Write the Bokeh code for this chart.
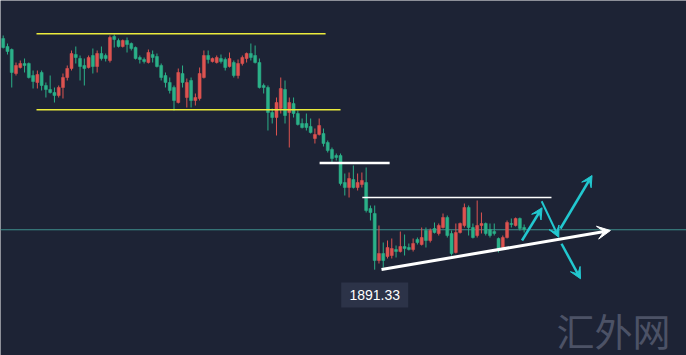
from bokeh.plotting import figure
from bokeh.models import Range1d, Span, Arrow, VeeHead, ColumnDataSource
from bokeh.embed import file_html
from bokeh.resources import INLINE
from bokeh.core.properties import value

# ---------------- data (candles) ----------------
opens = [1983.8, 1980.6, 1979.4, 1969.8, 1972.2, 1973.8, 1973.8, 1969.0, 1966.2, 1970.2,
         1965.0, 1963.4, 1962.2, 1961.0, 1964.2, 1968.2, 1971.8, 1977.4, 1975.8, 1973.0,
         1972.2, 1977.0, 1972.6, 1977.8, 1977.0, 1975.0, 1984.6, 1983.0, 1980.6, 1983.0,
         1981.8, 1980.2, 1976.2, 1975.4, 1974.2, 1977.4, 1976.6, 1973.0, 1969.0, 1966.2,
         1964.2, 1958.2, 1969.8, 1960.2, 1967.0, 1959.0, 1959.8, 1968.2, 1977.0, 1974.6,
         1974.2, 1975.8, 1975.4, 1972.6, 1974.2, 1969.0, 1973.8, 1975.8, 1977.8, 1977.0,
         1974.2, 1965.0, 1964.2, 1954.2, 1952.2, 1955.8, 1963.4, 1954.2, 1957.8, 1953.8,
         1949.8, 1949.8, 1948.6, 1943.8, 1945.4, 1945.8, 1942.2, 1939.4, 1937.0, 1937.0,
         1926.2, 1924.2, 1927.4, 1924.2, 1925.4, 1926.2, 1915.8, 1913.8, 1895.0, 1897.8,
         1896.6, 1897.0, 1899.4, 1898.6, 1900.6, 1900.2, 1899.4, 1903.4, 1901.4, 1907.0,
         1903.0, 1907.8, 1905.8, 1908.2, 1912.2, 1905.8, 1898.2, 1906.2, 1909.0, 1916.2,
         1908.2, 1905.0, 1909.0, 1909.8, 1907.4, 1906.6, 1903.8, 1900.2, 1904.2, 1909.8,
         1909.0, 1911.8, 1908.2]
closes = [1980.2, 1978.6, 1970.2, 1973.0, 1973.8, 1973.0, 1968.2, 1966.6, 1969.4, 1965.0,
          1963.4, 1962.2, 1961.0, 1964.2, 1968.2, 1971.8, 1977.8, 1976.2, 1972.6, 1971.8,
          1976.2, 1972.6, 1977.8, 1975.8, 1975.8, 1984.2, 1983.4, 1980.6, 1983.0, 1981.4,
          1979.8, 1975.8, 1975.4, 1974.6, 1978.2, 1976.2, 1972.6, 1968.2, 1966.2, 1963.0,
          1959.0, 1970.2, 1966.2, 1966.2, 1959.0, 1960.2, 1969.8, 1977.0, 1975.4, 1975.8,
          1976.2, 1974.6, 1972.2, 1975.8, 1969.0, 1973.8, 1976.2, 1977.8, 1976.2, 1974.2,
          1964.2, 1964.2, 1954.2, 1952.2, 1958.2, 1963.8, 1953.0, 1958.2, 1953.8, 1949.4,
          1948.2, 1948.2, 1946.2, 1945.4, 1949.0, 1941.8, 1939.0, 1935.8, 1936.2, 1925.8,
          1924.2, 1927.8, 1924.2, 1926.2, 1927.0, 1915.0, 1914.2, 1895.0, 1897.8, 1895.0,
          1900.2, 1899.8, 1898.6, 1900.6, 1899.8, 1899.4, 1901.8, 1902.2, 1904.2, 1903.0,
          1907.0, 1906.2, 1909.0, 1912.2, 1905.0, 1897.8, 1906.2, 1909.8, 1916.2, 1908.2,
          1904.2, 1909.0, 1909.8, 1905.8, 1905.0, 1905.8, 1899.0, 1904.2, 1910.2, 1909.4,
          1911.8, 1907.8, 1907.4]
highs = [1985.0, 1981.8, 1979.8, 1974.2, 1975.0, 1975.8, 1974.2, 1971.0, 1971.0, 1971.0,
         1966.2, 1969.0, 1964.2, 1965.0, 1969.8, 1973.0, 1979.0, 1980.6, 1977.0, 1975.8,
         1977.0, 1979.8, 1979.0, 1980.6, 1977.8, 1985.0, 1985.4, 1983.8, 1983.4, 1984.2,
         1982.2, 1980.6, 1977.0, 1976.2, 1979.4, 1979.0, 1977.8, 1973.8, 1970.2, 1968.2,
         1965.0, 1971.8, 1973.0, 1967.8, 1968.2, 1961.8, 1972.2, 1979.0, 1979.0, 1976.2,
         1977.0, 1977.4, 1976.2, 1978.2, 1975.0, 1975.4, 1977.0, 1978.2, 1981.8, 1981.0,
         1975.8, 1965.8, 1965.0, 1955.8, 1960.2, 1968.2, 1967.0, 1960.2, 1960.2, 1955.0,
         1951.8, 1953.8, 1951.8, 1947.8, 1951.8, 1947.8, 1943.0, 1940.2, 1937.8, 1937.8,
         1929.8, 1930.2, 1933.0, 1929.8, 1930.2, 1932.2, 1917.0, 1917.0, 1909.0, 1902.2,
         1903.0, 1903.8, 1901.0, 1906.6, 1905.4, 1901.8, 1903.8, 1904.2, 1908.2, 1908.2,
         1907.8, 1910.2, 1909.8, 1913.8, 1913.0, 1907.0, 1909.8, 1910.2, 1917.8, 1917.0,
         1909.8, 1919.0, 1914.2, 1910.2, 1909.8, 1909.8, 1904.2, 1905.0, 1911.0, 1911.8,
         1912.2, 1912.2, 1909.4]
lows = [1979.8, 1977.4, 1964.2, 1969.0, 1971.8, 1970.2, 1967.8, 1963.8, 1963.8, 1963.0,
        1960.2, 1961.8, 1958.2, 1960.2, 1959.8, 1967.0, 1971.0, 1973.8, 1967.0, 1965.0,
        1971.8, 1969.8, 1970.2, 1975.0, 1974.6, 1974.2, 1980.2, 1980.2, 1980.2, 1978.2,
        1979.0, 1975.4, 1973.8, 1973.8, 1973.8, 1974.2, 1972.2, 1967.0, 1964.2, 1961.8,
        1955.0, 1957.8, 1964.2, 1956.2, 1956.2, 1957.0, 1959.0, 1967.8, 1973.8, 1974.2,
        1973.8, 1973.8, 1971.0, 1972.2, 1968.2, 1967.8, 1973.0, 1974.2, 1975.0, 1973.8,
        1963.8, 1961.8, 1947.0, 1949.8, 1945.0, 1953.8, 1949.8, 1940.2, 1952.2, 1949.0,
        1947.8, 1947.0, 1945.8, 1941.8, 1945.0, 1940.6, 1938.2, 1934.2, 1935.0, 1925.0,
        1921.0, 1920.2, 1923.8, 1923.0, 1924.2, 1914.2, 1911.0, 1891.33, 1893.8, 1892.2,
        1895.8, 1895.8, 1896.2, 1898.2, 1897.0, 1899.0, 1898.6, 1901.4, 1901.0, 1900.2,
        1902.2, 1905.8, 1905.0, 1907.8, 1904.2, 1897.0, 1897.8, 1905.8, 1908.2, 1905.0,
        1903.8, 1904.2, 1905.8, 1905.0, 1904.2, 1905.0, 1898.2, 1899.8, 1903.8, 1908.2,
        1908.6, 1907.0, 1906.2]

current_price = 1907.3
low_label = "1891.33"
watermark = "汇外网"

# drawn analysis lines (candle-index / price units)
yellow_levels = [1985.7, 1955.3]
yellow_start = [7.8, 7.8]
yellow_end = [75.5, 79.0]
white_levels = [1934.0, 1920.2]
white_start = [74.1, 84.1]
white_end = [90.5, 128.4]
white_widths = [2.5, 1.5]
trend_x = [88.6, 142.2]
trend_y = [1891.4, 1907.0]
cyan_x0 = [121.5, 130.5, 130.75]
cyan_y0 = [1903.0, 1907.8, 1901.7]
cyan_x1 = [126.2, 137.9, 135.2]
cyan_y1 = [1916.1, 1929.0, 1887.7]
zig_x = [126.1, 130.1]
zig_y = [1918.7, 1904.3]
watermark_pos = (129.6, 1867.4)

# ---------------- styling ----------------
BG = "#1d2335"
UP = "#dd5350"     # red = rising
DOWN = "#2bb088"   # green = falling
CYAN = "#22c8d0"

n = len(opens)
idx = list(range(n))
colors = [UP if c >= o else DOWN for o, c in zip(opens, closes)]
tops = [max(o, c) for o, c in zip(opens, closes)]
bots = [min(o, c) for o, c in zip(opens, closes)]
src = ColumnDataSource(dict(x=idx, o=opens, c=closes, h=highs, l=lows,
                            top=tops, bot=bots, color=colors))

p = figure(width=686, height=355, output_backend="svg", toolbar_location=None,
           x_axis_location=None, y_axis_location=None, min_border=0,
           x_range=Range1d(-0.632, 160.02), y_range=Range1d(1857, 1999))
p.background_fill_color = BG
p.border_fill_color = BG
p.outline_line_color = None
p.grid.visible = False

p.add_layout(Span(location=current_price, dimension="width", line_color="#3e8f8c",
                  line_width=1, level="underlay"))

p.segment(x0="x", y0="l", x1="x", y1="h", color="color", line_width=1, source=src)
p.vbar(x="x", width=0.7, top="top", bottom="bot", fill_color="color",
       line_color="color", line_width=0.5, source=src)

p.segment(x0=yellow_start, y0=yellow_levels, x1=yellow_end, y1=yellow_levels,
          line_color="#ecec3c", line_width=1.5)
p.segment(x0=white_start, y0=white_levels, x1=white_end, y1=white_levels,
          line_color="white", line_width=white_widths)

p.add_layout(Arrow(end=VeeHead(size=13, fill_color="white", line_color="white"),
                   x_start=trend_x[0], y_start=trend_y[0], x_end=trend_x[1], y_end=trend_y[1],
                   line_color="white", line_width=3))

p.add_layout(Arrow(end=VeeHead(size=11, fill_color=CYAN, line_color=CYAN),
                   x_start=zig_x[0], y_start=zig_y[0], x_end=zig_x[1], y_end=zig_y[1],
                   line_color=CYAN, line_width=2))
for x0, y0, x1, y1 in zip(cyan_x0, cyan_y0, cyan_x1, cyan_y1):
    p.add_layout(Arrow(end=VeeHead(size=11, fill_color=CYAN, line_color=CYAN),
                       x_start=x0, y_start=y0, x_end=x1, y_end=y1,
                       line_color=CYAN, line_width=2.5))

# low label
low_i = lows.index(min(lows))
p.rect(x=[low_i], y=[min(lows) - 10.1], width=67, height=25, width_units="screen",
       height_units="screen", fill_color="#2c3348", line_color=None)
p.text(x=[low_i], y=[min(lows) - 10.1], text=[low_label], text_align="center",
       text_baseline="middle", text_font_size="14px", text_color="white",
       text_font=value("Liberation Sans"))

# watermark
p.text(x=[watermark_pos[0]], y=[watermark_pos[1]], text=[watermark],
       text_font=value("Noto Sans CJK SC"), text_font_size="38px",
       text_color="#4c5266", text_baseline="middle", text_align="left")

open("out.html", "w").write(file_html(p, INLINE))
